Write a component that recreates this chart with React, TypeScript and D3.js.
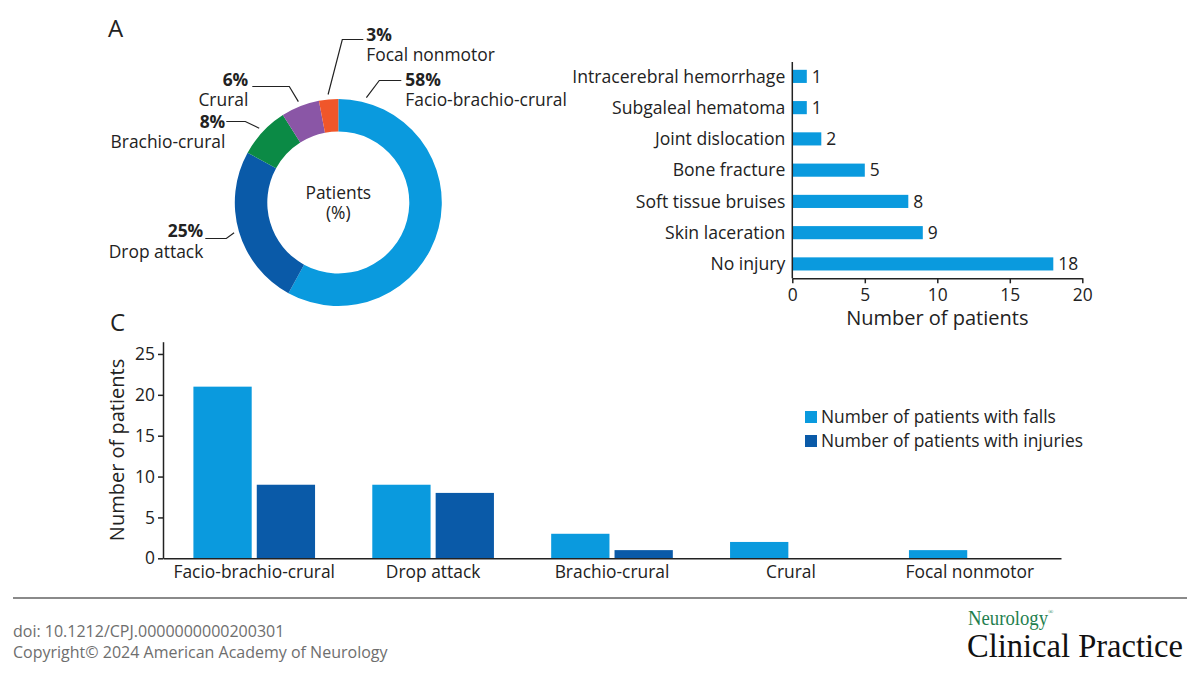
import { useEffect, useRef } from "react"
import * as d3 from "d3"

const FONT = "'Open Sans', 'Noto Sans', sans-serif"
const INK = "#222"
const FS = 17.4

// Panel A: seizure semiology, % of patients
const seizureTypes = ["Facio-brachio-crural", "Drop attack", "Brachio-crural", "Crural", "Focal nonmotor"]
const seizurePercent = [58, 25, 8, 6, 3]
const seizureColors = ["#0a9ade", "#0a5aa8", "#0b8a45", "#8a56a6", "#f0562a"]

// Panel B: injuries
const injuryTypes = [
  "Intracerebral hemorrhage",
  "Subgaleal hematoma",
  "Joint dislocation",
  "Bone fracture",
  "Soft tissue bruises",
  "Skin laceration",
  "No injury",
]
const injuryCounts = [1, 1, 2, 5, 8, 9, 18]
const injuryTicks = [0, 5, 10, 15, 20]

// Panel C: falls / injuries per seizure type
const fallsCounts = [21, 9, 3, 2, 1]
const injuredCounts = [9, 8, 1, 0, 0]
const seriesNames = ["Number of patients with falls", "Number of patients with injuries"]
const seriesColors = ["#0a9ade", "#0a5aa8"]
const countTicks = [0, 5, 10, 15, 20, 25]

// leader line layout for the donut labels (offsets from donut centre)
const leaderLayout = [
  { angle: 15, elbow: [41, -122], end: [63, -122], anchor: "start", tx: 67, y1: -117, y2: -97 },
  { angle: null, elbow: [-112, 36], end: [-133, 36], anchor: "end", tx: -135, y1: 34, y2: 55 },
  { angle: null, elbow: [-93, -81], end: [-112, -81], anchor: "end", tx: -113, y1: -75, y2: -55 },
  { angle: null, elbow: [-49, -116], end: [-86, -116], anchor: "end", tx: -90, y1: -117, y2: -97 },
  { angle: null, elbow: [4, -163], end: [25, -163], anchor: "start", tx: 28, y1: -162, y2: -142 },
]

export default function App() {
  const svgRef = useRef<SVGSVGElement>(null)

  useEffect(() => {
    if (!svgRef.current) return
    const svg = d3.select(svgRef.current)
    svg.selectAll("*").remove()

    svg.append("rect").attr("width", 1200).attr("height", 675).attr("fill", "#fff")

    const text = (x: number, y: number, s: string, size = FS, anchor = "start", weight = "normal", fill = INK) =>
      svg.append("text")
        .attr("x", x).attr("y", y)
        .attr("font-family", FONT).attr("font-size", size)
        .attr("text-anchor", anchor).attr("font-weight", weight)
        .attr("fill", fill)
        .text(s)

    // ---------- A: donut ----------
    text(108, 37, "A", 24)
    const cx = 338.3, cy = 202.5
    const outerR = 103.5, innerR = 71
    const pie = d3.pie<number>().sort(null).value(d => d)
    const arcs = pie(seizurePercent)
    const arc = d3.arc<d3.PieArcDatum<number>>().innerRadius(innerR).outerRadius(outerR)
    const gA = svg.append("g").attr("transform", `translate(${cx},${cy})`)
    gA.selectAll("path.slice")
      .data(arcs)
      .join("path")
      .attr("class", "slice")
      .attr("d", arc)
      .attr("fill", (_, i) => seizureColors[i])

    arcs.forEach((a, i) => {
      const L = leaderLayout[i]
      const ang = L.angle !== null ? (L.angle * Math.PI) / 180 : (a.startAngle + a.endAngle) / 2
      const r0 = outerR + 5
      const p0: [number, number] = [Math.sin(ang) * r0, -Math.cos(ang) * r0]
      gA.append("path")
        .attr("d", d3.line()([p0, L.elbow as [number, number], L.end as [number, number]]))
        .attr("fill", "none").attr("stroke", INK).attr("stroke-width", 1.2)
      gA.append("text")
        .attr("x", L.tx).attr("y", L.y1)
        .attr("text-anchor", L.anchor).attr("font-family", FONT)
        .attr("font-size", FS).attr("font-weight", "bold").attr("fill", INK)
        .text(`${seizurePercent[i]}%`)
      gA.append("text")
        .attr("x", L.tx).attr("y", L.y2)
        .attr("text-anchor", L.anchor).attr("font-family", FONT)
        .attr("font-size", FS).attr("fill", INK)
        .text(seizureTypes[i])
    })
    gA.append("text").attr("y", -4).attr("text-anchor", "middle")
      .attr("font-family", FONT).attr("font-size", FS).attr("fill", INK).text("Patients")
    gA.append("text").attr("y", 16).attr("text-anchor", "middle")
      .attr("font-family", FONT).attr("font-size", FS).attr("fill", INK).text("(%)")

    // ---------- B: injuries horizontal bars ----------
    const bx = d3.scaleLinear().domain([0, 20]).range([792.3, 1082.3])
    const by = d3.scaleBand<string>().domain(injuryTypes).range([62, 278.3]).paddingInner(0.58).paddingOuter(0.25)
    const gB = svg.append("g")
    gB.selectAll("rect")
      .data(injuryCounts)
      .join("rect")
      .attr("x", bx(0))
      .attr("y", (_, i) => by(injuryTypes[i])!)
      .attr("width", d => bx(d) - bx(0))
      .attr("height", by.bandwidth())
      .attr("fill", seriesColors[0])
    gB.selectAll("text.val")
      .data(injuryCounts)
      .join("text")
      .attr("class", "val")
      .attr("x", d => bx(d) + 5)
      .attr("y", (_, i) => by(injuryTypes[i])! + by.bandwidth() / 2)
      .attr("dy", "0.36em")
      .attr("font-family", FONT).attr("font-size", FS).attr("fill", INK)
      .text(d => d)
    gB.selectAll("text.cat")
      .data(injuryTypes)
      .join("text")
      .attr("class", "cat")
      .attr("x", bx(0) - 7)
      .attr("y", d => by(d)! + by.bandwidth() / 2)
      .attr("dy", "0.36em")
      .attr("text-anchor", "end")
      .attr("font-family", FONT).attr("font-size", 17.6).attr("fill", INK)
      .text(d => d)
    gB.append("line")
      .attr("x1", bx(0)).attr("x2", bx(0)).attr("y1", 62).attr("y2", 278.3)
      .attr("stroke", INK).attr("stroke-width", 1.5)
    const axB = gB.append("g")
      .attr("transform", "translate(0,278.3)")
      .call(d3.axisBottom(bx).tickValues(injuryTicks).tickSize(5).tickPadding(5).tickSizeOuter(0))
    axB.select(".domain").attr("stroke", INK).attr("stroke-width", 1.5)
    axB.selectAll(".tick line").attr("stroke", INK).attr("stroke-width", 1.5)
    axB.selectAll(".tick text").attr("font-family", FONT).attr("font-size", FS).attr("fill", INK)
    text((bx(0) + bx(20)) / 2, 325, "Number of patients", 20, "middle")

    // ---------- C: grouped bars ----------
    text(110, 331, "C", 24)
    const cxs = d3.scaleBand<string>().domain(seizureTypes).range([163, 1061]).paddingInner(0.32).paddingOuter(0.17)
    const sub = d3.scaleBand<number>().domain([0, 1]).range([0, cxs.bandwidth()]).paddingInner(0.08)
    const cy2 = d3.scaleLinear().domain([0, 26.5]).range([558.3, 341.7])
    const gC = svg.append("g")
    const series = [fallsCounts, injuredCounts]
    series.forEach((vals, s) => {
      gC.append("g")
        .selectAll("rect")
        .data(vals)
        .join("rect")
        .attr("x", (_, i) => cxs(seizureTypes[i])! + sub(s)!)
        .attr("y", d => cy2(d))
        .attr("width", sub.bandwidth())
        .attr("height", d => cy2(0) - cy2(d))
        .attr("fill", seriesColors[s])
    })
    const axCy = gC.append("g")
      .attr("transform", "translate(163,0)")
      .call(d3.axisLeft(cy2).tickValues(countTicks).tickSize(5).tickPadding(3).tickSizeOuter(0))
    axCy.select(".domain").attr("stroke", INK).attr("stroke-width", 1.5)
    axCy.selectAll(".tick line").attr("stroke", INK).attr("stroke-width", 1.5)
    axCy.selectAll(".tick text").attr("font-family", FONT).attr("font-size", FS).attr("fill", INK)
    const axCx = gC.append("g")
      .attr("transform", `translate(0,${cy2(0)})`)
      .call(d3.axisBottom(cxs).tickSize(0).tickPadding(7).tickSizeOuter(0))
    axCx.select(".domain").attr("stroke", INK).attr("stroke-width", 1.5)
    axCx.selectAll(".tick text").attr("font-family", FONT).attr("font-size", FS).attr("fill", INK)
    svg.append("text")
      .attr("transform", "translate(124,450) rotate(-90)")
      .attr("text-anchor", "middle")
      .attr("font-family", FONT).attr("font-size", 20).attr("fill", INK)
      .text("Number of patients")

    // legend
    seriesNames.forEach((name, i) => {
      const ly = 411 + i * 24
      svg.append("rect").attr("x", 805).attr("y", ly).attr("width", 12).attr("height", 12).attr("fill", seriesColors[i])
      text(821, ly + 12, name, FS)
    })

    // ---------- footer ----------
    svg.append("line")
      .attr("x1", 13).attr("x2", 1187).attr("y1", 598).attr("y2", 598)
      .attr("stroke", "#8a8a8a").attr("stroke-width", 2)
    text(13, 637, "doi: 10.1212/CPJ.0000000000200301", 16, "start", "normal", "#6e6e6e")
    text(13, 658, "Copyright© 2024 American Academy of Neurology", 16, "start", "normal", "#6e6e6e")
    const logo = svg.append("text")
      .attr("x", 968).attr("y", 625)
      .attr("font-family", "'Liberation Serif', 'DejaVu Serif', serif")
      .attr("fill", "#1f7f4f")
    logo.append("tspan")
      .attr("font-size", 22)
      .attr("textLength", 80).attr("lengthAdjust", "spacingAndGlyphs")
      .text("Neurology")
    logo.append("tspan")
      .attr("font-size", 7).attr("dy", -11)
      .text("®")
    svg.append("text")
      .attr("x", 967).attr("y", 657)
      .attr("font-family", "'Liberation Serif', 'DejaVu Serif', serif")
      .attr("font-size", 33).attr("fill", "#111")
      .attr("textLength", 216).attr("lengthAdjust", "spacingAndGlyphs")
      .text("Clinical Practice")
  }, [])

  return (
    <svg
      ref={svgRef}
      width={1200}
      height={675}
      style={{ position: "absolute", left: 0, top: 0, display: "block" }}
    />
  )
}
